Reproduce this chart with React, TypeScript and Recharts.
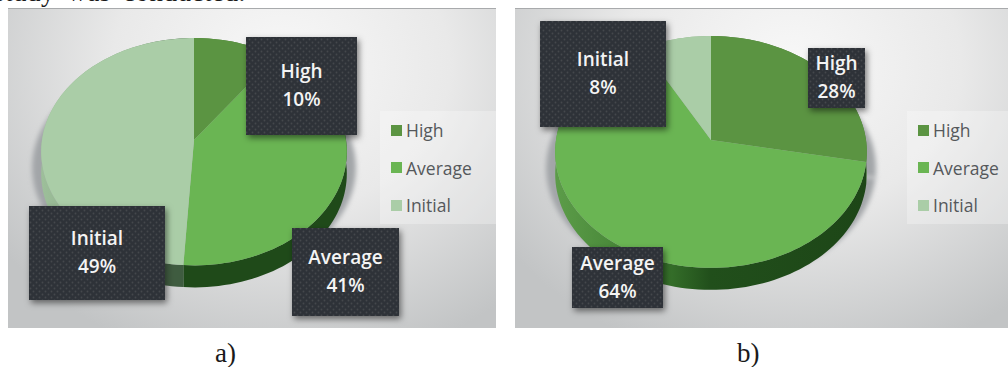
import React from "react";
import { PieChart, Pie, Legend } from "recharts";

const categories = ["High", "Average", "Initial"];
const valuesA = [10, 41, 49];
const valuesB = [28, 64, 8];
const faceColors = ["#5b9442", "#6ab553", "#aacda7"];

// how far the disc is tipped back, and how much nearer the front edge looks
const SQUASH = 0.74;
const PERSPECTIVE = 0.103;
const DEPTH = 22;

type Box = { x: number; y: number; w: number; h: number };

interface PanelProps {
  id: string;
  left: number;
  width: number;
  values: number[];
  cx: number;
  radius: number;
  boxes: Box[];
  legendLeft: number;
  legendWidth: number;
  wallFills: string[];
}

// Projects a point of the flat disc on to the tilted ellipse
const project = (cx: number, cy: number, r: number, deg: number, grow = 0) => {
  const rad = (deg * Math.PI) / 180;
  const u = Math.cos(rad);
  const v = Math.sin(rad);
  const w = 1 + PERSPECTIVE * v;
  return {
    x: cx + ((r + grow) * u) / w,
    y: cy - (r * SQUASH * v) / w,
  };
};

const arcPoints = (p: any, grow = 0) => {
  const steps = Math.max(2, Math.ceil(Math.abs(p.endAngle - p.startAngle) / 2));
  const pts = [];
  for (let i = 0; i <= steps; i++) {
    const deg = p.startAngle + ((p.endAngle - p.startAngle) * i) / steps;
    pts.push(project(p.cx, p.cy, p.outerRadius, deg, grow));
  }
  return pts;
};

const toPath = (pts: { x: number; y: number }[]) =>
  pts.map((q, i) => `${i ? "L" : "M"}${q.x.toFixed(2)} ${q.y.toFixed(2)}`).join(" ");

const FaceShape = (p: any) => (
  <path d={`M${p.cx} ${p.cy} ${toPath(arcPoints(p)).replace("M", "L")} Z`} fill={p.fill} />
);

const makeWallShape = (fills: string[]) => (p: any) => {
  const top = arcPoints(p);
  const bottom = top.map((q) => ({ x: q.x, y: q.y + DEPTH })).reverse();
  return <path d={`${toPath(top)} ${toPath(bottom).replace("M", "L")} Z`} fill={fills[p.index]} />;
};

const makeShadowShape = (id: string) => (p: any) => {
  const pts = arcPoints(p, 9).map((q) => ({ x: q.x, y: q.y + 16 }));
  return (
    <path
      d={`M${p.cx} ${p.cy + 16} ${toPath(pts).replace("M", "L")} Z`}
      fill="#a2a5a8"
      filter={`url(#${id}-blur)`}
    />
  );
};

const makeCallout = (id: string, boxes: Box[]) => (p: any) => {
  const b = boxes[p.index];
  const mid = b.x + b.w / 2;
  const textProps = {
    x: mid,
    textAnchor: "middle" as const,
    fill: "#f4f4f4",
    fontFamily: "'Open Sans', sans-serif",
    fontWeight: 600,
    fontSize: 19,
  };
  return (
    <g>
      <rect x={b.x} y={b.y} width={b.w} height={b.h} fill="#2f3337" filter={`url(#${id}-drop)`} />
      <rect x={b.x} y={b.y} width={b.w} height={b.h} fill={`url(#${id}-dots)`} />
      <text {...textProps} y={b.y + b.h / 2 - 8}>
        {p.name}
      </text>
      <text {...textProps} y={b.y + b.h / 2 + 20}>
        {p.value}%
      </text>
    </g>
  );
};

// The stacked pies each report their slices, so keep one entry per category
const LegendPanel = ({ payload, width }: any) => {
  const items = categories
    .map((name) => (payload || []).find((entry: any) => entry.value === name))
    .filter(Boolean);
  return (
    <div
      style={{
        width,
        height: 113,
        background: "rgba(255,255,255,0.28)",
        fontFamily: "'Open Sans', sans-serif",
        fontSize: 17.5,
        color: "#55585b",
      }}
    >
      {items.map((item: any, i: number) => (
        <div
          key={item.value}
          style={{
            position: "absolute",
            left: 11,
            top: 13 + i * 37.5,
            height: 12,
            display: "flex",
            alignItems: "center",
            whiteSpace: "nowrap",
          }}
        >
          <span style={{ width: 11, height: 11, marginRight: 4, background: item.color }} />
          {item.value}
        </div>
      ))}
    </div>
  );
};

const Panel: React.FC<PanelProps> = ({
  id,
  left,
  width,
  values,
  cx,
  radius,
  boxes,
  legendLeft,
  legendWidth,
  wallFills,
}) => {
  const data = categories.map((name, i) => ({ name, value: values[i], fill: faceColors[i] }));
  const common = {
    data,
    dataKey: "value",
    nameKey: "name",
    cx,
    cy: 132,
    outerRadius: radius,
    startAngle: 90,
    endAngle: -270,
    stroke: "none",
    isAnimationActive: false,
  };
  return (
    <div
      style={{
        position: "absolute",
        left,
        top: 8,
        width,
        height: 320,
        borderTop: "1px solid #a8aaac",
        boxSizing: "border-box",
        overflow: "hidden",
        background:
          "radial-gradient(ellipse 72% 95% at 56% 18%, #f8f8f8 0%, #e9e9e9 48%, #c2c4c5 100%)",
      }}
    >
      <PieChart width={width} height={320} margin={{ top: 0, right: 0, bottom: 0, left: 0 }} style={{ position: "absolute", top: -1, left: 0 }}>
        <defs>
          <filter id={`${id}-blur`} x="-20%" y="-20%" width="140%" height="140%">
            <feGaussianBlur stdDeviation="2.5" />
          </filter>
          <filter id={`${id}-drop`} x="-20%" y="-20%" width="150%" height="150%">
            <feDropShadow dx="2" dy="3" stdDeviation="3" floodColor="#000" floodOpacity="0.5" />
          </filter>
          <pattern id={`${id}-dots`} width="6" height="6" patternUnits="userSpaceOnUse">
            <circle cx="1.5" cy="1.5" r="0.9" fill="#44484c" />
            <circle cx="4.5" cy="4.5" r="0.9" fill="#44484c" />
          </pattern>
          <linearGradient id={`${id}-wall`} x1="0" y1="0" x2="1" y2="0">
            <stop offset="0" stopColor="#5c9c49" />
            <stop offset="0.3" stopColor="#3f7f31" />
            <stop offset="0.5" stopColor="#214f1b" />
            <stop offset="1" stopColor="#1d4617" />
          </linearGradient>
          <linearGradient id={`${id}-wall-light`} x1="0" y1="0" x2="1" y2="0">
            <stop offset="0" stopColor="#9dbf9a" />
            <stop offset="0.6" stopColor="#7f9f7c" />
            <stop offset="0.85" stopColor="#3f5c40" />
            <stop offset="1" stopColor="#3f5c40" />
          </linearGradient>
        </defs>
        <Pie {...common} legendType="none" shape={makeShadowShape(id)} />
        <Pie {...common} legendType="none" shape={makeWallShape(wallFills)} />
        <Pie
          {...common}
          shape={FaceShape}
          label={makeCallout(id, boxes)}
          labelLine={false}
        />
        <Legend
          content={<LegendPanel width={legendWidth} />}
          wrapperStyle={{ left: legendLeft, top: 103, width: legendWidth, height: 113 }}
        />
      </PieChart>
    </div>
  );
};

const caption: React.CSSProperties = {
  position: "absolute",
  fontFamily: "'Liberation Serif', serif",
  fontSize: 27,
  color: "#1a1a1a",
  lineHeight: "30px",
  whiteSpace: "nowrap",
};

export default function App() {
  return (
    <div
      style={{
        position: "fixed",
        left: 0,
        top: 0,
        width: 1008,
        height: 367,
        overflow: "hidden",
        background: "#fff",
      }}
    >
      <div style={{ ...caption, left: -6, top: -23, wordSpacing: 5, letterSpacing: 0.5 }}>study was conducted.</div>
      <Panel
        id="a"
        left={8}
        width={488}
        values={valuesA}
        cx={186}
        radius={152}
        boxes={[
          { x: 238, y: 29, w: 111, h: 98 },
          { x: 284, y: 220, w: 107, h: 88 },
          { x: 21, y: 198, w: 136, h: 94 },
        ]}
        legendLeft={372}
        legendWidth={103}
        wallFills={["#4d7c3a", "#1f4a19", "url(#a-wall-light)"]}
      />
      <Panel
        id="b"
        left={515}
        width={493}
        values={valuesB}
        cx={196}
        radius={155}
        boxes={[
          { x: 293, y: 40, w: 57, h: 60 },
          { x: 57, y: 239, w: 91, h: 61 },
          { x: 25, y: 13, w: 126, h: 106 },
        ]}
        legendLeft={392}
        legendWidth={101}
        wallFills={["#4d7c3a", "url(#b-wall)", "#8fb58b"]}
      />
      <div style={{ ...caption, left: 215, top: 338 }}>a)</div>
      <div style={{ ...caption, left: 737, top: 338 }}>b)</div>
    </div>
  );
}
